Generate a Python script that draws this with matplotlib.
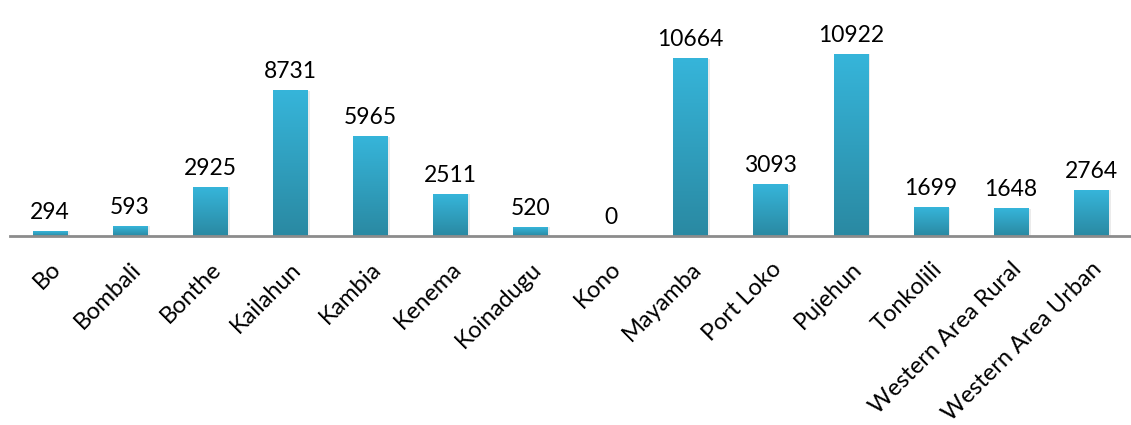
import numpy as np
import matplotlib.pyplot as plt
from matplotlib.colors import LinearSegmentedColormap

districts = ['Bo', 'Bombali', 'Bonthe', 'Kailahun', 'Kambia', 'Kenema', 'Koinadugu',
             'Kono', 'Mayamba', 'Port Loko', 'Pujehun', 'Tonkolili',
             'Western Area Rural', 'Western Area Urban']
counts = [294, 593, 2925, 8731, 5965, 2511, 520, 0, 10664, 3093, 10922, 1699, 1648, 2764]

plt.rcParams['font.family'] = ['Lato', 'DejaVu Sans']

fig = plt.figure(figsize=(11.31, 4.25), dpi=100)
ax = fig.add_axes([0.0088, 0.4447, 0.9912, 0.548])

x = np.arange(len(districts))
width = 0.43
bars = ax.bar(x, counts, width=width, color='none', edgecolor='none')

# vertical gradient fill for each bar
cmap = LinearSegmentedColormap.from_list('grad', ['#2A89A2', '#36B5DA'])
grad = np.linspace(0, 1, 256).reshape(-1, 1)
for b in bars:
    h = b.get_height()
    if h <= 0:
        continue
    x0 = b.get_x()
    # soft shadow
    ax.bar(x0 + b.get_width() / 2 + 0.03, h, width=b.get_width(), color='#000000',
           alpha=0.08, zorder=1)
    ax.imshow(grad, cmap=cmap, extent=[x0, x0 + b.get_width(), 0, h],
              origin='lower', aspect='auto', zorder=2)

for xi, v in zip(x, counts):
    ax.annotate(str(v), (xi, v), xytext=(0, 6), textcoords='offset points',
                ha='center', va='bottom', fontsize=16.5, color='#000000')

ax.set_xlim(-0.5, len(districts) - 0.5)
ax.set_ylim(0, 14000)
ax.set_xticks(x)
ax.set_xticklabels(districts, rotation=45, ha='right', rotation_mode='anchor',
                   fontsize=17)
ax.tick_params(axis='x', length=0, pad=16)
ax.set_yticks([])
for s in ['top', 'right', 'left']:
    ax.spines[s].set_visible(False)
ax.spines['bottom'].set_color('#8C8C8C')
ax.spines['bottom'].set_linewidth(2)
ax.patch.set_visible(False)

fig.savefig('out.png', dpi=100)
